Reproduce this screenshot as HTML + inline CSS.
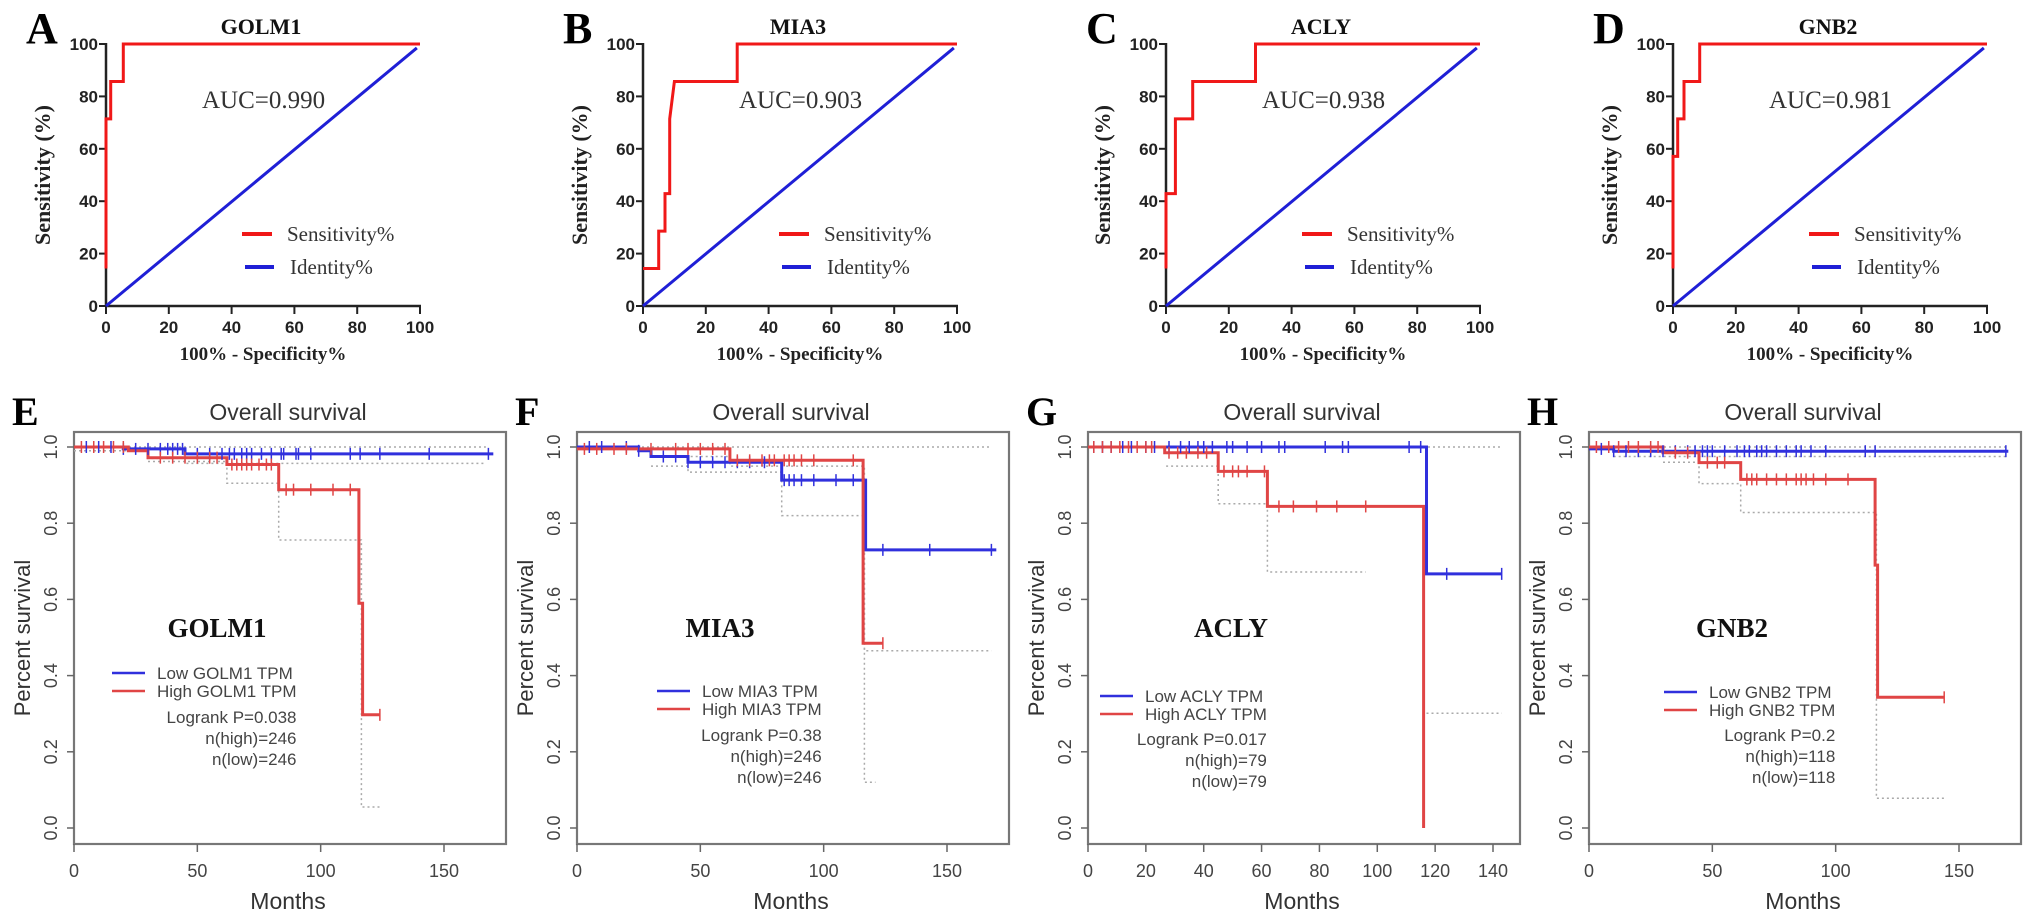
<!DOCTYPE html>
<html><head><meta charset="utf-8">
<style>
html,body{margin:0;padding:0;background:#fff;}
svg{display:block;}
.serif{font-family:"Liberation Serif",serif;}
.sans{font-family:"Liberation Sans",sans-serif;}
</style></head>
<body>
<svg id="fig" width="2031" height="918" viewBox="0 0 2031 918" xmlns="http://www.w3.org/2000/svg"></svg>
<script>
// ---------- ROC data ----------
const rocXTicks = [0,20,40,60,80,100];
const rocYTicks = [0,20,40,60,80,100];
const aFpr = [0,0,1.5,1.5,5.5,5.5,100];
const aTpr = [14.3,71.4,71.4,85.7,85.7,100,100];
const bFpr = [0,5,5,7,7,8.5,8.5,10,30,30,100];
const bTpr = [14.3,14.3,28.6,28.6,42.9,42.9,71.4,85.7,85.7,100,100];
const cFpr = [0,0,3,3,8.5,8.5,28.5,28.5,100];
const cTpr = [14.3,42.9,42.9,71.4,71.4,85.7,85.7,100,100];
const dFpr = [0,0,1.5,1.5,3.5,3.5,8.5,8.5,100];
const dTpr = [14.3,57.1,57.1,71.4,71.4,85.7,85.7,100,100];
const identityX = [0,99];
const identityY = [0,98.5];
const rocGenes = ["GOLM1","MIA3","ACLY","GNB2"];
const rocAuc = ["AUC=0.990","AUC=0.903","AUC=0.938","AUC=0.981"];

// ---------- KM data ----------
const kmYTicks = [0,0.2,0.4,0.6,0.8,1.0];
const kmYTickLabels = ["0.0","0.2","0.4","0.6","0.8","1.0"];
const xTicks150 = [0,50,100,150];
const xTicks140 = [0,20,40,60,80,100,120,140];

const eLowT = [0,20,45,170];
const eLowS = [1,0.995,0.982,0.982];
const eHighT = [0,22,30,62,83,115.5,117,124];
const eHighS = [1,0.99,0.972,0.954,0.888,0.59,0.297,0.297];
const eCiUpT = [0,167]; const eCiUpS = [1,1];
const eCiLowT = [0,30,45,167]; const eCiLowS = [0.99,0.97,0.957,0.957];
const eCiHighT = [30,62,83,116.5,124]; const eCiHighS = [0.962,0.905,0.756,0.055,0.055];
const eCensLow = [5,10,15,20,25,30,35,38,40,42,44,50,55,60,63,65,68,70,72,76,80,84,85,90,91,96,112,116,124,144,168];
const eCensHigh = [3,8,12,16,20,35,40,45,50,55,58,64,66,68,70,72,75,78,80,86,89,96,105,112,124];

const fLowT = [0,25,30,45,83,117,170];
const fLowS = [1,0.99,0.975,0.96,0.913,0.73,0.73];
const fHighT = [0,62,116,124];
const fHighS = [0.995,0.965,0.485,0.485];
const fCiUpT = [0,168]; const fCiUpS = [1,1];
const fCiLowT = [30,45,83,116.5,168]; const fCiLowS = [0.95,0.934,0.82,0.465,0.465];
const fCiHighT = [40,62,116.5,121]; const fCiHighS = [0.975,0.95,0.12,0.12];
const fCensLow = [5,10,20,25,35,40,45,50,55,60,65,70,76,84,86,88,91,96,105,112,124,143,168];
const fCensHigh = [3,8,15,20,30,40,45,50,55,60,65,70,75,78,80,84,86,88,91,96,112,124];

const gLowT = [0,117,143];
const gLowS = [1,0.667,0.667];
const gHighT = [0,26.5,45,62,116,116];
const gHighS = [1,0.985,0.936,0.844,0.0,0.0];
const gCiUpT = [0,143]; const gCiUpS = [1,1];
const gCiLowT = [117,143]; const gCiLowS = [0.301,0.301];
const gCiHighT = [27,45,62,96]; const gCiHighS = [0.95,0.851,0.672,0.672];
const gCensLow = [2,5,8,12,15,20,23,28,32,35,38,40,43,48,50,55,60,66,68,82,88,90,111,115,124,143];
const gCensHigh = [2,5,8,11,14,17,20,22,28,31,34,38,41,47,50,52,55,61,66,71,79,86,96];

const hLowT = [0,10,170];
const hLowS = [0.995,0.989,0.989];
const hHighT = [0,30,44.6,61.5,116,117,144];
const hHighS = [1,0.985,0.959,0.915,0.69,0.343,0.343];
const hCiUpT = [0,170]; const hCiUpS = [1,1];
const hCiLowT = [10,170]; const hCiLowS = [0.975,0.975];
const hCiHighT = [30,44.6,61.5,116.5,144]; const hCiHighS = [0.96,0.904,0.828,0.078,0.078];
const hCensLow = [5,10,15,20,25,30,35,40,43,46,48,50,55,60,63,65,68,70,72,76,80,84,86,90,96,112,116,169];
const hCensHigh = [3,8,12,16,20,25,28,35,40,48,52,55,64,66,68,72,76,80,84,86,88,91,96,105,144];

const kmGenes = ["GOLM1","MIA3","ACLY","GNB2"];
const kmStats = [
  ["Logrank P=0.038","n(high)=246","n(low)=246"],
  ["Logrank P=0.38","n(high)=246","n(low)=246"],
  ["Logrank P=0.017","n(high)=79","n(low)=79"],
  ["Logrank P=0.2","n(high)=118","n(low)=118"]
];

// ---------- helpers ----------
const NS = "http://www.w3.org/2000/svg";
const svg = document.getElementById("fig");
function mk(tag, attrs, parent){
  const el = document.createElementNS(NS, tag);
  for (const k in attrs) el.setAttribute(k, attrs[k]);
  (parent||svg).appendChild(el);
  return el;
}
function txt(s, attrs, parent){ const t = mk("text", attrs, parent); t.textContent = s; return t; }

// ---------- ROC panels ----------
const rocX0 = [106,643,1166,1673];
const rocLetters = ["A","B","C","D"];
const rocData = [[aFpr,aTpr],[bFpr,bTpr],[cFpr,cTpr],[dFpr,dTpr]];
const rocW = 314, rocTop = 44, rocBot = 306;
rocX0.forEach((x0, i) => {
  const g = mk("g", {});
  
  
  const sx = v => x0 + v / 100 * rocW;
  const sy = v => rocBot - v / 100 * (rocBot - rocTop);
  const L = txt(rocLetters[i], {x: x0 - 80, y: 43, class: "serif", "font-size": 44, "font-weight": "bold", fill: "#000"}, g);
  
  
  const T = txt(rocGenes[i], {x: x0 + 155, y: 34, class: "serif", "font-size": 22, "font-weight": "bold", "text-anchor": "middle", fill: "#111"}, g);
  
  
  const ya = mk("line", {x1: x0, y1: rocTop - 1, x2: x0, y2: rocBot + 1, stroke: "#222", "stroke-width": 2.5}, g);
  
  
  const xa = mk("line", {x1: x0, y1: rocBot, x2: x0 + rocW + 1, y2: rocBot, stroke: "#222", "stroke-width": 2.5}, g);
  
  
  rocYTicks.forEach(v => {
    mk("line", {x1: x0 - 7, y1: sy(v), x2: x0, y2: sy(v), stroke: "#222", "stroke-width": 2}, g);
    const t = txt(String(v), {x: x0 - 8, y: sy(v) + 6, class: "sans", "font-size": 17, "font-weight": "bold", "text-anchor": "end", fill: "#222"}, g);
    
    
  });
  rocXTicks.forEach(v => {
    mk("line", {x1: sx(v), y1: rocBot, x2: sx(v), y2: rocBot + 8, stroke: "#222", "stroke-width": 2}, g);
    const t = txt(String(v), {x: sx(v), y: 333, class: "sans", "font-size": 17, "font-weight": "bold", "text-anchor": "middle", fill: "#222"}, g);
    
    
  });
  const xt = txt("100% - Specificity%", {x: x0 + 157, y: 360, class: "serif", "font-size": 19, "font-weight": "bold", "text-anchor": "middle", fill: "#222"}, g);
  
  
  const yt = txt("Sensitivity (%)", {x: 0, y: 0, class: "serif", "font-size": 22, "font-weight": "bold", "text-anchor": "middle", fill: "#222", transform: `translate(${x0 - 56},175) rotate(-90)`}, g);
  
  
  const idl = mk("line", {x1: sx(identityX[0]), y1: sy(identityY[0]), x2: sx(identityX[1]), y2: sy(identityY[1]), stroke: "#1f1fd6", "stroke-width": 3}, g);
  
  
  const [fx, ty] = rocData[i];
  const pts = fx.map((v, k) => sx(v).toFixed(1) + "," + sy(ty[k]).toFixed(1)).join(" ");
  const rl = mk("polyline", {points: pts, fill: "none", stroke: "#f01818", "stroke-width": 3}, g);
  
  
  const auc = txt(rocAuc[i], {x: x0 + 96, y: 108, class: "serif", "font-size": 25, fill: "#333"}, g);
  
  
  const l1 = mk("line", {x1: x0 + 136, y1: 234, x2: x0 + 166, y2: 234, stroke: "#f01818", "stroke-width": 4}, g);
  
  
  const lt1 = txt("Sensitivity%", {x: x0 + 181, y: 241, class: "serif", "font-size": 21, fill: "#333"}, g);
  
  
  const l2 = mk("line", {x1: x0 + 139, y1: 267, x2: x0 + 168, y2: 267, stroke: "#1f1fd6", "stroke-width": 4}, g);
  
  
  const lt2 = txt("Identity%", {x: x0 + 184, y: 274, class: "serif", "font-size": 21, fill: "#333"}, g);
  
  
});

// ---------- KM panels ----------
const kmX0 = [74,577,1088,1589];
const kmLetters = ["E","F","G","H"];
const kmXmax = [150,150,140,150];
const kmXTicks = [xTicks150, xTicks150, xTicks140, xTicks150];
const kmSeries = [
  {lowT:eLowT,lowS:eLowS,highT:eHighT,highS:eHighS,ci:[[eCiUpT,eCiUpS],[eCiLowT,eCiLowS],[eCiHighT,eCiHighS]],cl:eCensLow,ch:eCensHigh},
  {lowT:fLowT,lowS:fLowS,highT:fHighT,highS:fHighS,ci:[[fCiUpT,fCiUpS],[fCiLowT,fCiLowS],[fCiHighT,fCiHighS]],cl:fCensLow,ch:fCensHigh},
  {lowT:gLowT,lowS:gLowS,highT:gHighT,highS:gHighS,ci:[[gCiUpT,gCiUpS],[gCiLowT,gCiLowS],[gCiHighT,gCiHighS]],cl:gCensLow,ch:gCensHigh},
  {lowT:hLowT,lowS:hLowS,highT:hHighT,highS:hHighS,ci:[[hCiUpT,hCiUpS],[hCiLowT,hCiLowS],[hCiHighT,hCiHighS]],cl:hCensLow,ch:hCensHigh}
];
const kmLegendY = [673,691,696,692];
const kmStatsY = [717,735,739,735];
const kmXpx = [370,370,405,370];
const boxTop = 432, boxBot = 844, y1px = 447, y0px = 828, boxW = 432;

function stepPoints(T, S, sx, sy){
  let p = [];
  for (let k = 0; k < T.length; k++){
    if (k > 0) p.push([sx(T[k]), sy(S[k-1])]);
    p.push([sx(T[k]), sy(S[k])]);
  }
  return p.map(q => q[0].toFixed(1) + "," + q[1].toFixed(1)).join(" ");
}
function survAt(T, S, t){
  let v = S[0];
  for (let k = 0; k < T.length; k++) if (T[k] <= t) v = S[k];
  return v;
}

kmX0.forEach((x0, i) => {
  const g = mk("g", {});
  
  
  const pxPer = kmXpx[i] / kmXmax[i];
  const sx = v => x0 + v * pxPer;
  const sy = v => y0px - v * (y0px - y1px);
  const L = txt(kmLetters[i], {x: x0 - 62, y: 425, class: "serif", "font-size": 40, "font-weight": "bold", fill: "#000"}, g);
  
  
  const T = txt("Overall survival", {x: x0 + 214, y: 420, class: "sans", "font-size": 23, "text-anchor": "middle", fill: "#333"}, g);
  
  
  const box = mk("rect", {x: x0, y: boxTop, width: boxW, height: boxBot - boxTop, fill: "none", stroke: "#777", "stroke-width": 2.2}, g);
  
  
  kmYTicks.forEach((v, k) => {
    mk("line", {x1: x0 - 7, y1: sy(v), x2: x0, y2: sy(v), stroke: "#666", "stroke-width": 1.5}, g);
    const t = txt(kmYTickLabels[k], {x: 0, y: 0, class: "sans", "font-size": 18, "text-anchor": "middle", fill: "#444", transform: `translate(${x0 - 17},${sy(v)}) rotate(-90)`}, g);
    
    
  });
  kmXTicks[i].forEach(v => {
    mk("line", {x1: sx(v), y1: boxBot, x2: sx(v), y2: boxBot + 8, stroke: "#666", "stroke-width": 1.5}, g);
    const t = txt(String(v), {x: sx(v), y: 877, class: "sans", "font-size": 18, "text-anchor": "middle", fill: "#444"}, g);
    
    
  });
  const xt = txt("Months", {x: x0 + 214, y: 909, class: "sans", "font-size": 23, "text-anchor": "middle", fill: "#333"}, g);
  
  
  const yt = txt("Percent survival", {x: 0, y: 0, class: "sans", "font-size": 22, "text-anchor": "middle", fill: "#333", transform: `translate(${x0 - 44},638) rotate(-90)`}, g);
  
  
  const d = kmSeries[i];
  d.ci.forEach(c => {
    const pl = mk("polyline", {points: stepPoints(c[0], c[1], sx, sy), fill: "none", stroke: "#aaa", "stroke-width": 1.5, "stroke-dasharray": "2,3"}, g);
    
    
  });
  const lo = mk("polyline", {points: stepPoints(d.lowT, d.lowS, sx, sy), fill: "none", stroke: "#3030dd", "stroke-width": 3}, g);
  
  
  const hi = mk("polyline", {points: stepPoints(d.highT, d.highS, sx, sy), fill: "none", stroke: "#e04545", "stroke-width": 3}, g);
  
  
  d.cl.forEach(t => {
    const y = sy(survAt(d.lowT, d.lowS, t));
    const c = mk("line", {x1: sx(t), y1: y - 6, x2: sx(t), y2: y + 6, stroke: "#3030dd", "stroke-width": 1.5}, g);
    
    
  });
  d.ch.forEach(t => {
    const y = sy(survAt(d.highT, d.highS, t));
    const c = mk("line", {x1: sx(t), y1: y - 6, x2: sx(t), y2: y + 6, stroke: "#e04545", "stroke-width": 1.5}, g);
    
    
  });
  const gl = txt(kmGenes[i], {x: x0 + 143, y: 637, class: "serif", "font-size": 27, "font-weight": "bold", "text-anchor": "middle", fill: "#111"}, g);
  
  
  const ly = kmLegendY[i];
  const lx = x0 + 38 + (i === 1 ? 42 : i === 2 ? -26 : i === 3 ? 37 : 0);
  const s1 = mk("line", {x1: lx, y1: ly, x2: lx + 33, y2: ly, stroke: "#3030dd", "stroke-width": 2.5}, g);
  
  
  const t1 = txt("Low " + kmGenes[i] + " TPM", {x: lx + 45, y: ly + 6, class: "sans", "font-size": 17, fill: "#444"}, g);
  
  
  const s2 = mk("line", {x1: lx, y1: ly + 18, x2: lx + 33, y2: ly + 18, stroke: "#e04545", "stroke-width": 2.5}, g);
  
  
  const t2 = txt("High " + kmGenes[i] + " TPM", {x: lx + 45, y: ly + 24, class: "sans", "font-size": 17, fill: "#444"}, g);
  
  
  const rx = lx + 45 + t2.getComputedTextLength();
  kmStats[i].forEach((s, k) => {
    const st = txt(s, {x: rx, y: kmStatsY[i] + 6 + k * 21, class: "sans", "font-size": 17, "text-anchor": "end", fill: "#444"}, g);
    
    
  });
});
</script>
</body></html>
